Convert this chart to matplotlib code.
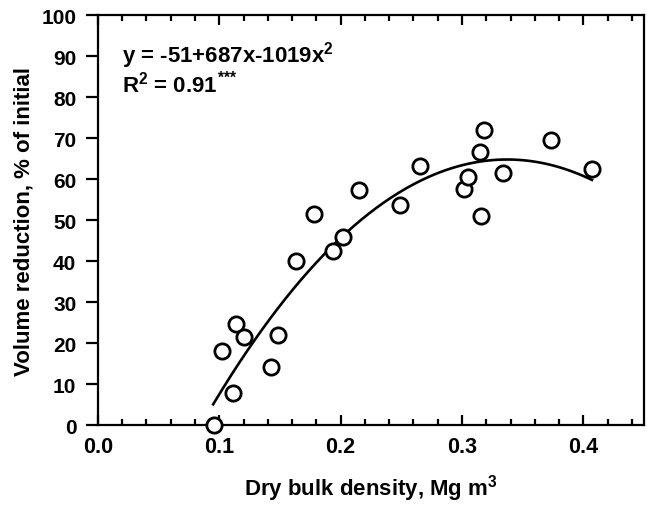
import numpy as np
import matplotlib
matplotlib.use("Agg")
import matplotlib.pyplot as plt
from matplotlib.ticker import MultipleLocator
from matplotlib.transforms import offset_copy

plt.rcParams['font.family'] = ['Liberation Sans', 'DejaVu Sans']
plt.rcParams['font.weight'] = 'bold'
plt.rcParams['mathtext.fontset'] = 'custom'
plt.rcParams['mathtext.rm'] = 'Liberation Sans:bold'
plt.rcParams['mathtext.bf'] = 'Liberation Sans:bold'
plt.rcParams['mathtext.it'] = 'Liberation Sans:bold'
plt.rcParams['mathtext.default'] = 'rm'

# Data
bulk_density = [0.096, 0.102, 0.111, 0.114, 0.120, 0.143, 0.148, 0.163,
                0.178, 0.194, 0.202, 0.215, 0.249, 0.265, 0.302, 0.305,
                0.315, 0.318, 0.316, 0.334, 0.373, 0.407]
volume_reduction = [0.0, 18.0, 7.8, 24.6, 21.5, 14.2, 22.0, 40.0,
                    51.4, 42.4, 45.8, 57.4, 53.6, 63.1, 57.6, 60.6,
                    66.6, 71.9, 51.0, 61.4, 69.5, 62.4]
coef = [-51, 687, -1019]   # y = a + b x + c x^2
fit_range = [0.095, 0.407]

x_ticks = [0.0, 0.1, 0.2, 0.3, 0.4]
y_ticks = [0, 10, 20, 30, 40, 50, 60, 70, 80, 90, 100]

fig = plt.figure(figsize=(6.48, 5.06), dpi=100)
ax = fig.add_axes([0.151, 0.158, 0.843, 0.810])

xf = np.linspace(fit_range[0], fit_range[1], 200)
yf = coef[0] + coef[1] * xf + coef[2] * xf ** 2
ax.plot(xf, yf, color='black', lw=1.9, zorder=2)
ax.plot(bulk_density, volume_reduction, 'o', ms=11, mfc='white', mec='black',
        mew=2.0, zorder=3, clip_on=False)

ax.set_xlim(0, 0.45)
ax.set_ylim(0, 100)
ax.set_xticks(x_ticks)
ax.set_xticklabels([f"{v:.1f}" for v in x_ticks])
ax.set_yticks(y_ticks)
ax.xaxis.set_minor_locator(MultipleLocator(0.02))

for s in ax.spines.values():
    s.set_linewidth(1.6)

FS = 16
ax.tick_params(axis='x', which='major', direction='in', length=7, width=1.6,
               top=True, labelsize=15.5, pad=8)
ax.tick_params(axis='x', which='minor', direction='in', length=4, width=1.6,
               top=True)
ax.tick_params(axis='y', which='major', direction='out', length=8.5, width=1.6,
               right=False, labelsize=15, pad=7)

ax.set_xlabel("Dry bulk density, Mg m$^{3}$", fontsize=FS, fontweight='bold',
              labelpad=11)
ax.set_ylabel("Volume reduction, % of initial", fontsize=FS, fontweight='bold',
              labelpad=5)

ax.text(0.02, 90.3, "y = -51+687x-1019x$^{2}$", fontsize=FS, fontweight='bold',
        va='center', ha='left')
t2 = ax.text(0.02, 83.3, "R$^{2}$ = 0.91", fontsize=FS, fontweight='bold',
             va='center', ha='left')
fig.canvas.draw()
bb = t2.get_window_extent()
x_end, _ = ax.transData.inverted().transform((bb.x1, bb.y1))
ax.text(x_end, 83.3, "***", fontsize=FS * 0.7, fontweight='bold',
        va='bottom', ha='left',
        transform=offset_copy(ax.transData, fig=fig, x=0.5, y=-1, units='points'))

fig.savefig("out.png", dpi=100)
